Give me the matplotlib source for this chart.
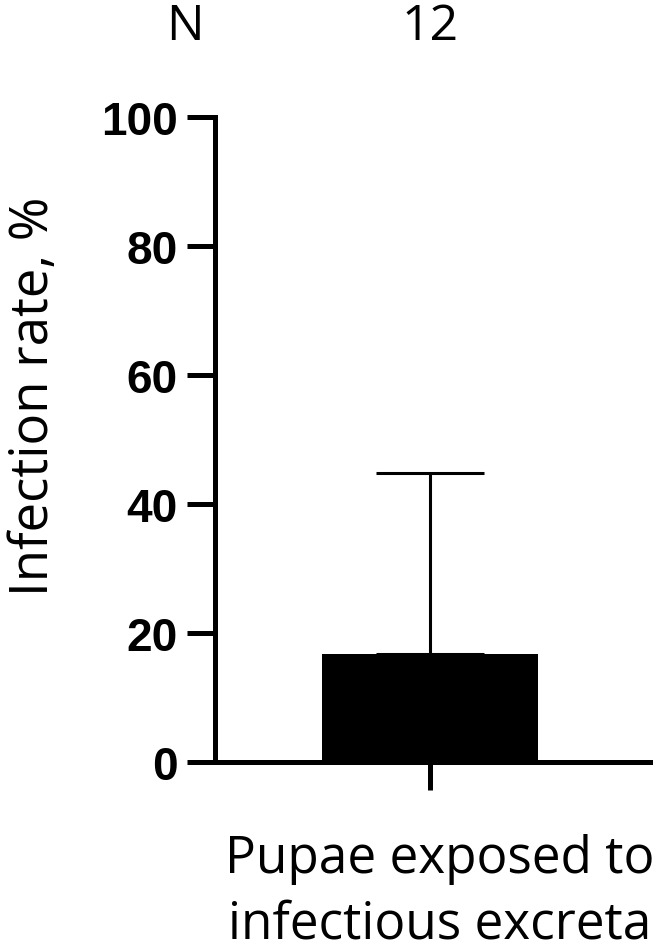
import matplotlib
matplotlib.use('Agg')
import matplotlib.pyplot as plt

# ── Data ────────────────────────────────────────────────────
groups = ['Pupae exposed to\ninfectious excreta']
rates = [16.67]
err_upper = [28.1]
n_counts = [12]
yticks = [0, 20, 40, 60, 80, 100]

TICK_FONT = 'Liberation Sans'
TEXT_FONT = 'Open Sans'

fig = plt.figure(figsize=(6.64, 9.53), dpi=100)
ax = fig.add_axes([215 / 664, 1 - 763 / 953, 435 / 664, (763 - 118) / 953])

x = list(range(len(groups)))
ax.bar(x, rates, width=0.993, color='black', zorder=2)
ax.errorbar(x, rates, yerr=[[0] * len(rates), err_upper], fmt='none',
            ecolor='black', elinewidth=2.2, capsize=39, capthick=2.2, zorder=1)

ax.set_xlim(-0.988, 1.012)
ax.set_ylim(0, 100)
ax.set_yticks(yticks)
ax.set_yticklabels([str(v) for v in yticks], fontsize=33, fontweight='bold',
                   family=TICK_FONT)
ax.set_xticks(x)
ax.set_xticklabels([''] * len(x))

for side in ['top', 'right']:
    ax.spines[side].set_visible(False)
for side in ['left', 'bottom']:
    ax.spines[side].set_linewidth(3.6)
ax.tick_params(axis='both', width=3.6, length=20, pad=7)

# y label placed by hand, well left of the tick labels
fig.text(34 / 664, 1 - 396 / 953, 'Infection rate, %', rotation=90,
         ha='center', va='center', fontsize=38, family=TEXT_FONT)

# group label, one line at a time
for i, line in enumerate(groups[0].split('\n')):
    fig.text(440 / 664, 1 - (860 + 65 * i) / 953, line, ha='center',
             va='center', fontsize=37, family=TEXT_FONT)

# N row above the plot
fig.text(185 / 664, 1 - 27 / 953, 'N', ha='center', va='center',
         fontsize=36, family=TEXT_FONT)
for xi, n in zip(x, n_counts):
    fig.text(430 / 664, 1 - 27 / 953, str(n), ha='center', va='center',
             fontsize=36, family=TEXT_FONT)

fig.savefig('out.png', dpi=100)
